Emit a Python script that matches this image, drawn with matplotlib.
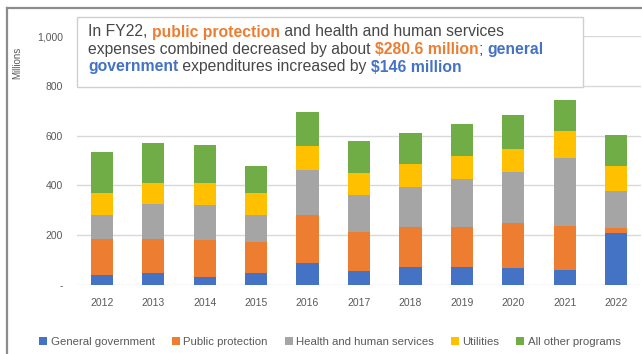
import matplotlib
matplotlib.use("Agg")
import matplotlib.pyplot as plt
import numpy as np
from matplotlib.patches import Patch
from matplotlib.lines import Line2D

# Expenses by function, millions of dollars
years = ["2012", "2013", "2014", "2015", "2016", "2017", "2018", "2019", "2020", "2021", "2022"]
general_government = [40, 47, 33, 47, 89, 56, 72, 72, 67, 62, 208]
public_protection = [144, 137, 147, 126, 191, 155, 161, 161, 180, 174, 20]
health_human_services = [99, 143, 143, 110, 180, 152, 160, 194, 208, 276, 151]
utilities = [86, 84, 88, 86, 97, 87, 92, 92, 93, 106, 98]
all_other_programs = [167, 161, 153, 110, 136, 127, 126, 129, 135, 124, 124]

series_names = ["General government", "Public protection", "Health and human services",
                "Utilities", "All other programs"]
series_values = [general_government, public_protection, health_human_services,
                 utilities, all_other_programs]
colors = ["#4472C4", "#ED7D31", "#A5A5A5", "#FFC000", "#70AD47"]

y_ticks = [0, 200, 400, 600, 800, 1000]
y_tick_labels = ["-", "200", "400", "600", "800", "1,000"]

W, H = 642, 354
fig = plt.figure(figsize=(W / 100, H / 100), dpi=100)
fig.patch.set_facecolor("white")

ax = fig.add_axes([77 / W, (H - 285) / H, (641 - 77) / W, (285 - 36) / H])
x = np.arange(len(years))
bottom = np.zeros(len(years))
for name, vals, c in zip(series_names, series_values, colors):
    vals = np.array(vals, dtype=float)
    ax.bar(x, vals, width=0.43, bottom=bottom, color=c, label=name, zorder=3)
    bottom += vals

ax.set_xlim(-0.48, len(years) - 0.52)
ax.set_ylim(0, 1000)
ax.set_yticks(y_ticks)
ax.set_yticklabels(y_tick_labels)
ax.set_xticks(x)
ax.set_xticklabels(years)
ax.grid(axis="y", color="#d9d9d9", linewidth=1.0, zorder=0)
ax.set_axisbelow(True)
for s in ax.spines.values():
    s.set_visible(False)
ax.tick_params(axis="both", length=0, labelsize=7.5, labelcolor="#595959",
               labelfontfamily="Liberation Sans")
ax.tick_params(axis="y", pad=10)
ax.tick_params(axis="x", pad=9)

fig.text(17 / W, (H - 63) / H, "Millions", rotation=90, ha="center", va="center",
         fontsize=7, color="#595959", family="Liberation Sans")

# Outer frame lines
fig.add_artist(Line2D([7 / W, 1.0], [(H - 8) / H, (H - 8) / H], color="#8c8c8c",
                      linewidth=1.6, transform=fig.transFigure))
fig.add_artist(Line2D([7 / W, 7 / W], [0, (H - 8) / H], color="#8c8c8c",
                      linewidth=1.6, transform=fig.transFigure))

# Callout box
box = plt.Rectangle((77 / W, (H - 87) / H), (583 - 77) / W, (87 - 17) / H,
                    transform=fig.transFigure, facecolor="white", edgecolor="#d0d0d0",
                    linewidth=1.0, zorder=5)
fig.add_artist(box)

dark = "#474747"
orange = "#ED7D31"
blue = "#4472C4"
lines = [
    [("In FY22, ", dark, "normal"), ("public protection", orange, "bold"),
     (" and health and human services", dark, "normal")],
    [("expenses combined decreased by about ", dark, "normal"),
     ("$280.6 million", orange, "bold"), ("; ", dark, "normal"), ("general", blue, "bold")],
    [("government", blue, "bold"), (" expenditures increased by ", dark, "normal"),
     ("$146 million", blue, "bold")],
]
line_y = [32, 49.5, 67]
fs = 11.3
fig.canvas.draw()
renderer = fig.canvas.get_renderer()


def text_width(s, weight):
    t1 = fig.text(0, 0, s + "|", fontsize=fs, weight=weight, family="Liberation Sans")
    t2 = fig.text(0, 0, "|", fontsize=fs, weight=weight, family="Liberation Sans")
    w = t1.get_window_extent(renderer).width - t2.get_window_extent(renderer).width
    t1.remove()
    t2.remove()
    return w


for pieces, yp in zip(lines, line_y):
    xp = 88.0
    for s, c, wgt in pieces:
        fig.text(xp / W, (H - yp) / H, s, fontsize=fs, color=c, weight=wgt,
                 family="Liberation Sans", ha="left", va="center", zorder=6)
        xp += text_width(s, wgt)

handles = [Patch(facecolor=c, edgecolor="none") for c in colors]
fig.legend(handles, series_names, loc="center", bbox_to_anchor=(330 / W, (H - 342) / H),
           ncol=5, frameon=False, handlelength=0.7, handleheight=0.7,
           handletextpad=0.3, columnspacing=1.5, labelcolor="#595959",
           prop={"family": "Liberation Sans", "size": 8.2})

fig.savefig("out.png", dpi=100, facecolor="white")
